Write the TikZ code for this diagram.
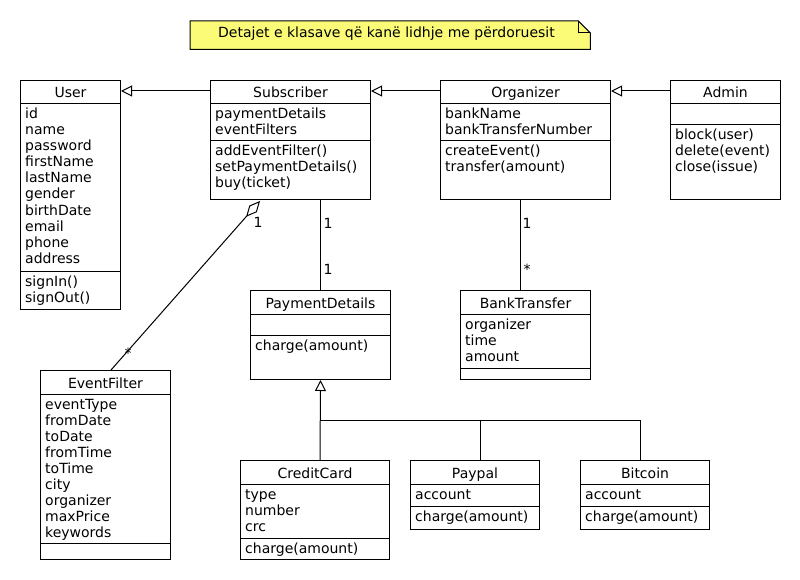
\documentclass[tikz,border=0pt]{standalone}
\usepackage{fontspec}
\setmainfont{DejaVu Sans}
\usetikzlibrary{arrows.meta,calc}
\definecolor{notey}{RGB}{251,251,119}
\tikzset{
  cls/.style={draw, line width=1pt, anchor=north west, inner sep=0pt, fill=white},
  ln/.style={line width=1pt},
  txt/.style={inner sep=0pt, anchor=base west},
  lbl/.style={inner sep=0pt, anchor=base},
  gen/.style={line width=1pt, -{Triangle[open, length=11pt, width=11pt, fill=white]}},
  agg/.style={line width=1pt, -{Diamond[open, length=21pt, width=10pt, fill=white]}},
}
\newcommand\umlclass[9]{%
  \node[cls, minimum width=#4pt, minimum height=#5pt] (#1) at (#2,#3) {};
  \node[lbl] (#1-t) at ($(#1.north)+(0,18)$) {#6};
  \draw[ln] ($(#1.north west)+(0,24)$) -- ($(#1.north east)+(0,24)$);
  \draw[ln] ($(#1.north west)+(0,#7)$) -- ($(#1.north east)+(0,#7)$);
  \foreach \t [count=\i] in {#8} {\node[txt] (#1-a\i) at ($(#1.north west)+(5,{39+16*(\i-1)})$) {\t};}
  \foreach \t [count=\i] in {#9} {\node[txt] (#1-m\i) at ($(#1.north west)+(5,{#7+15+16*(\i-1)})$) {\t};}
}
\begin{document}
\begin{tikzpicture}[x=1pt, y=-1pt, font=\fontsize{14}{16}\selectfont]
\useasboundingbox[fill=white] (0,0) rectangle (800,580);

% note
\node[inner sep=0pt, minimum width=400pt, minimum height=28pt, anchor=north west] (note) at (190,21) {};
\draw[ln, fill=notey] (note.north west) -- ($(note.north east)+(-12,0)$) -- ($(note.north east)+(0,12)$) -- (note.south east) -- (note.south west) -- cycle;
\draw[ln] ($(note.north east)+(-12,0)$) -- ($(note.north east)+(-12,12)$) -- ($(note.north east)+(0,12)$);
\node[lbl] (notetext) at (386.5,38) {Detajet e klasave që kanë lidhje me përdoruesit};

% classes
\umlclass{user}{20}{80}{100}{229}{User}{191}{id,name,password,firstName,lastName,gender,birthDate,email,phone,address}{signIn(),signOut()}
\umlclass{sub}{210}{80}{160}{119}{Subscriber}{61}{paymentDetails,eventFilters}{addEventFilter(),setPaymentDetails(),buy(ticket)}
\umlclass{org}{440}{80}{170}{119}{Organizer}{61}{bankName,bankTransferNumber}{createEvent(),transfer(amount)}
\umlclass{admin}{670}{80}{110}{119}{Admin}{45}{}{block(user),delete(event),close(issue)}
\umlclass{pd}{250}{290}{140}{89}{PaymentDetails}{45}{}{charge(amount)}
\umlclass{bt}{460}{290}{130}{89}{BankTransfer}{78}{organizer,time,amount}{}
\umlclass{ef}{40}{370}{130}{189}{EventFilter}{173}{eventType,fromDate,toDate,fromTime,toTime,city,organizer,maxPrice,keywords}{}
\umlclass{cc}{240}{460}{149}{99}{CreditCard}{78}{type,number,crc}{charge(amount)}
\umlclass{pp}{410}{460}{129}{69}{Paypal}{46}{account}{charge(amount)}
\umlclass{bc}{580}{460}{129}{69}{Bitcoin}{46}{account}{charge(amount)}

% generalizations (top row)
\draw[gen] ($(sub.north west)+(0,11)$) -- ($(user.north east)+(0,11)$);
\draw[gen] ($(org.north west)+(0,11)$) -- ($(sub.north east)+(0,11)$);
\draw[gen] ($(admin.north west)+(0,11)$) -- ($(org.north east)+(0,11)$);

% associations
\draw[ln] (pd.north |- sub.south) -- (pd.north);
\node[lbl] (l1) at (328,229) {1};
\node[lbl] (l2) at (328,274) {1};
\coordinate (btp) at ($(bt.north)+(-5,0)$);
\draw[ln] (btp |- org.south) -- (btp);
\node[lbl] (l3) at (527,229) {1};
\node[lbl] (l4) at (527,274) {*};

% aggregation
\draw[agg] ($(ef.north west)+(71,0)$) -- ($(sub.south west)+(50,1)$);
\node[lbl] (l5) at (258,227) {1};
\node[lbl] (l6) at (128,358) {*};

% payment generalization tree
\coordinate (j1) at (320,420);
\coordinate (j2) at (480,420);
\coordinate (j3) at (640,420);
\draw[gen] ($(cc.north west)+(80,0)$) -- (pd.south);
\draw[ln] (j1) -- (j3) -- ($(bc.north west)+(60,0)$);
\draw[ln] (j2) -- ($(pp.north west)+(70,0)$);
\end{tikzpicture}
\end{document}
